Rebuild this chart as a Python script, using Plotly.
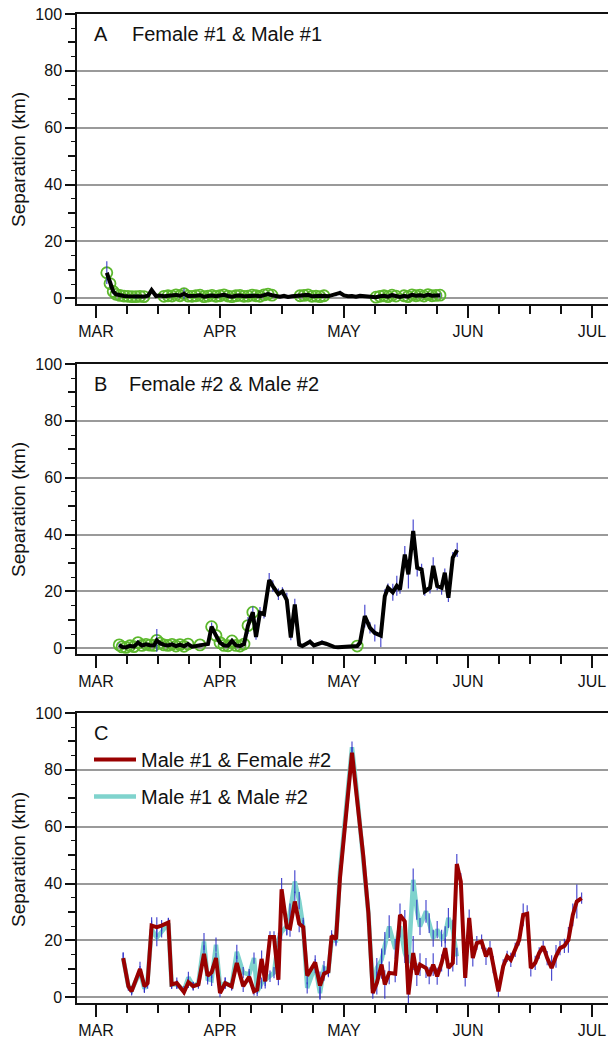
import plotly.graph_objects as go

# x = days after 1 March (months drawn with equal width: MAR=0, APR=31, MAY=62, JUN=93, JUL=124)
month_pos = [0, 31, 62, 93, 124]
month_lbl = ["MAR", "APR", "MAY", "JUN", "JUL"]

# ---------------- Panel A: Female #1 & Male #1 ----------------
a_day = [2.7, 3.5, 4.3, 5, 6, 7, 8, 9, 10, 11, 12, 13, 13.9, 15, 16, 17, 18, 19, 20, 21,
         22, 23, 24, 25, 26, 27, 28, 29, 30, 31, 32, 33, 34, 35, 36, 37, 38, 39, 40, 41,
         42, 43, 44, 45, 46, 47, 48, 49, 50, 51, 52, 53, 54, 55, 56, 57, 58, 59, 60, 61,
         62, 63, 64, 65, 66, 67, 68, 69, 70, 71, 72, 73, 74, 75, 76, 77, 78, 79, 80, 81,
         82, 83, 84, 85, 86]
a_sep = [9.0, 5.2, 2.4, 1.4, 1.0, 0.8, 0.7, 0.6, 0.6, 0.7,
         0.6, 0.9, 2.9, 0.8, 1.0, 0.7, 0.9, 0.8, 1.2, 0.9,
         1.6, 0.8, 0.7, 0.9, 1.1, 0.6, 0.8, 1.0, 0.7, 0.9,
         1.2, 0.8, 0.6, 0.9, 1.0, 0.7, 0.8, 1.1, 0.9, 0.7,
         1.2, 1.5, 1.1, 0.8, 0.6, 0.9, 0.5, 0.7, 0.8, 0.9,
         1.0, 1.2, 0.7, 0.8, 0.6, 0.9, 0.7, 1.0, 1.3, 1.9,
         1.0, 0.7, 0.8, 0.6, 0.9, 0.7, 0.6, 0.5, 0.4, 0.7,
         0.9, 0.6, 1.1, 0.8, 0.5, 0.9, 0.6, 1.2, 0.9, 1.1,
         0.8, 1.3, 0.9, 1.0, 1.1]
a_err = [4.0, 1.5, 1.0, 0.6, 0.5, 0.4, 0.4, 0.4, 0.8, 0.4,
         0.4, 0.5, 0.6, 0.5, 0.5, 0.4, 0.5, 0.4, 0.6, 0.5,
         1.8, 0.5, 0.4, 0.5, 0.6, 0.4, 0.5, 0.6, 0.4, 0.5,
         0.8, 0.5, 0.4, 0.5, 0.6, 0.4, 0.5, 0.6, 0.5, 0.4,
         0.6, 0.8, 0.6, 0.5, 0.4, 0.5, 0.4, 0.4, 0.5, 0.5,
         0.5, 0.6, 0.4, 0.5, 0.4, 0.5, 0.4, 0.5, 0.6, 0.8,
         0.5, 0.4, 0.5, 0.4, 0.5, 0.4, 0.4, 0.4, 0.3, 0.4,
         0.5, 0.4, 0.6, 0.5, 0.4, 0.5, 0.4, 0.6, 0.5, 0.6,
         0.5, 0.6, 0.5, 0.5, 0.8]
a_circle_day = [2.7, 3.5, 4.3, 5, 6, 7, 8, 9, 10, 11, 12,
                17, 18, 19, 20, 21, 22, 23, 24, 25, 26, 27, 28, 29, 30, 31, 32, 33, 34, 35,
                36, 37, 38, 39, 40, 41, 42, 43, 44,
                51, 52, 53, 54, 55, 56, 57,
                70, 71, 72, 73, 74, 75, 77, 78, 79, 80, 81, 82, 83, 84, 85, 86]

# ---------------- Panel B: Female #2 & Male #2 ----------------
b_day = [5.8, 6.5, 7.5, 8.5, 9.5, 10.5, 11.5, 12.5, 13.5, 14.5,
         15.2, 16, 17, 18, 19, 20, 21, 22, 23, 24,
         25, 26, 27, 28, 28.9, 30, 31, 32, 33, 34,
         35, 36, 37, 38, 39.2, 40, 41, 42, 43.3, 44.2,
         45.6, 46.6, 47.7, 48.7, 49.7, 50.8, 51.6, 52.6, 53.5, 54.5,
         55.5, 56.5, 57.5, 58.5, 59.5, 60.5, 61.5, 62.5, 63.5, 64.5,
         65.3, 66, 67.2, 68.5, 69.7, 71.2, 72.2, 73, 74.2, 75.2,
         76, 77.2, 78.1, 79.3, 80.3, 81.4, 82.2, 83.5, 84.3, 85.3,
         86.4, 87.2, 88.1, 89.2, 90.3]
b_sep = [1.2, 0.5, 0.3, 0.9, 0.6, 2.0, 1.0, 1.4, 1.1, 1.0,
         2.8, 1.8, 1.2, 1.0, 1.4, 0.8, 1.3, 0.7, 1.5, 0.6,
         0.8, 1.2, 1.3, 1.5, 7.6, 4.5, 2.0, 1.0, 0.9, 2.6,
         1.0, 0.8, 1.5, 8.0, 12.7, 4.0, 12.5, 12.0, 24.0, 21.9,
         19.0, 20.0, 17.0, 3.8, 15.4, 1.3, 0.8, 1.6, 2.3, 1.0,
         1.5, 2.0, 1.6, 1.0, 0.5, 0.4, 0.5, 0.4, 0.6, 0.5,
         0.8, 2.0, 11.3, 7.2, 5.4, 4.5, 18.3, 21.3, 19.7, 22.0,
         20.7, 33.0, 26.0, 41.3, 28.3, 27.7, 20.0, 21.3, 29.0, 21.9,
         21.3, 26.6, 17.8, 31.9, 34.6]
b_err = [0.5, 0.4, 0.4, 0.5, 0.4, 0.8, 0.5, 0.6, 0.5, 0.5,
         4.0, 0.8, 0.5, 0.5, 0.6, 0.4, 0.5, 0.4, 0.6, 0.4,
         0.4, 0.5, 0.5, 0.6, 1.5, 1.0, 0.6, 0.5, 0.4, 0.8,
         0.5, 0.4, 0.6, 3.0, 2.0, 1.0, 2.0, 1.5, 2.5, 2.0,
         2.0, 1.5, 2.5, 1.0, 2.0, 0.6, 0.4, 0.6, 0.8, 0.5,
         0.6, 0.8, 0.6, 0.5, 0.4, 0.3, 0.4, 0.3, 0.4, 0.4,
         0.5, 0.8, 4.0, 2.0, 3.0, 4.0, 2.5, 1.5, 3.0, 3.5,
         1.5, 3.0, 5.0, 4.0, 3.0, 2.0, 1.5, 2.0, 3.0, 1.5,
         2.5, 1.5, 1.5, 2.0, 2.5]
b_circle_day = [5.8, 6.5, 7.5, 8.5, 9.5, 10.5, 11.5, 12.5, 13.5, 14.5, 15.2, 16, 17, 18,
                19, 20, 21, 22, 23, 26, 28.9, 30, 31, 32, 33, 34, 35, 36, 37, 38, 39.2, 65.3]

# ---------------- Panel C ----------------
c_day = [6.8, 8.1, 8.9, 11, 12.1, 12.9, 13.9, 15.2, 16.4, 18.1,
         18.9, 20.2, 22, 23.1, 24.3, 25.6, 27, 27.9, 28.9, 30,
         31, 32.3, 33.9, 35.2, 36.8, 38.3, 39.5, 40.3, 41.4, 42.3,
         43.5, 44.5, 45.6, 46.4, 47.7, 48.5, 49.7, 50.8, 51.8, 52.8,
         54.8, 56, 57, 58.1, 58.9, 60, 61, 62, 63, 64,
         65, 66, 66.8, 68.1, 69.2, 70.2, 71.4, 72.2, 73.3, 74.8,
         76, 77.2, 78.1, 79.3, 80.2, 81, 82.5, 83.3, 84.3, 85.3,
         86.4, 87.3, 88.1, 89.2, 90.2, 91.2, 92.3, 93.3, 94.2, 95.2,
         96.4, 97.5, 98.5, 99.3, 100.6, 101.8, 102.8, 103.7, 104.8, 105.8,
         106.8, 107.8, 108.7, 109.8, 110.8, 111.8, 112.8, 113.9, 115, 116,
         117.1, 118.1, 119.2, 120.2, 121.4]
# Male #1 & Female #2
c_m1f2 = [13.8, 3.9, 2.1, 10.0, 3.9, 5.0, 25.2, 24.7, 25.2, 26.3,
          4.5, 5.0, 1.8, 5.3, 3.9, 4.5, 15.3, 7.6, 8.8, 13.8,
          1.5, 5.0, 3.9, 12.1, 3.9, 7.2, 2.1, 2.7, 13.5, 5.6,
          21.2, 21.2, 6.2, 38.0, 24.7, 24.3, 33.7, 25.9, 24.7, 7.6,
          12.3, 4.1, 8.3, 9.1, 21.6, 20.5, 42.0, 56.0, 71.0, 86.0,
          73.0, 60.0, 50.0, 29.6, 1.5, 5.0, 11.5, 4.5, 8.6, 8.3,
          29.0, 26.7, 1.0, 15.6, 8.0, 11.5, 10.3, 7.6, 11.5, 7.4,
          12.1, 17.3, 10.3, 12.1, 46.9, 40.7, 6.8, 27.9, 13.8, 19.1,
          19.6, 14.4, 17.3, 11.5, 2.1, 10.9, 14.4, 13.2, 16.7, 20.2,
          29.0, 29.4, 10.3, 12.1, 15.6, 17.9, 13.8, 10.3, 14.4, 17.3,
          18.1, 20.2, 29.0, 33.7, 34.9]
c_m1f2_err = [2.0, 1.5, 1.5, 2.5, 2.0, 2.0, 3.0, 3.5, 2.0, 1.5,
              1.5, 2.0, 1.0, 2.0, 1.5, 1.5, 3.0, 2.0, 2.0, 2.0,
              1.5, 2.0, 1.5, 2.5, 2.0, 2.0, 1.5, 1.5, 3.0, 2.5,
              2.0, 2.0, 2.0, 4.0, 3.0, 3.0, 3.5, 3.0, 2.5, 3.0,
              2.5, 5.0, 2.5, 2.0, 2.0, 2.0, 2.5, 2.0, 2.0, 2.0,
              2.0, 2.0, 2.0, 2.0, 2.0, 4.0, 5.0, 5.0, 4.0, 3.0,
              4.0, 4.0, 3.0, 6.0, 4.0, 4.0, 3.5, 3.0, 4.0, 3.0,
              3.0, 3.5, 3.0, 3.0, 3.5, 3.0, 3.0, 3.0, 3.0, 2.5,
              2.5, 3.0, 2.5, 3.0, 2.0, 2.5, 2.0, 2.5, 2.5, 2.0,
              4.0, 3.0, 3.0, 2.5, 2.0, 2.0, 2.5, 4.5, 4.0, 2.5,
              2.5, 4.5, 4.0, 6.0, 2.0]
# Male #1 & Male #2 (ends 90.2)
c_m1m2_day = c_day[:75]
c_m1m2 = [13.8, 3.9, 2.5, 9.0, 3.0, 6.0, 24.0, 21.0, 23.0, 26.0,
          4.5, 4.5, 2.5, 7.0, 4.0, 5.0, 19.6, 6.5, 6.0, 18.5,
          4.0, 5.0, 4.0, 16.0, 8.7, 8.0, 13.8, 2.0, 5.0, 6.0,
          7.4, 8.7, 20.2, 23.0, 25.0, 30.0, 40.7, 34.0, 25.0, 3.3,
          11.0, 1.5, 10.3, 9.5, 20.0, 20.0, 44.0, 58.0, 73.0, 88.0,
          75.0, 60.0, 50.0, 29.6, 3.0, 10.3, 13.2, 19.0, 24.9, 17.0,
          25.0, 15.6, 12.0, 41.3, 30.8, 24.9, 30.2, 26.1, 20.8, 23.8,
          20.8, 22.0, 27.9, 23.8, 14.4]
c_m1m2_err = [2.0, 1.5, 1.5, 2.0, 1.5, 2.0, 3.0, 3.0, 2.0, 2.0,
              1.5, 1.5, 1.5, 2.0, 1.5, 1.5, 3.0, 2.0, 2.0, 2.5,
              1.5, 2.0, 1.5, 2.5, 2.0, 2.0, 2.0, 1.5, 2.0, 2.0,
              2.0, 2.0, 2.5, 3.0, 3.0, 3.0, 4.0, 3.0, 3.0, 2.0,
              2.5, 2.0, 2.5, 2.0, 2.5, 2.0, 2.5, 2.0, 2.0, 2.0,
              2.0, 2.0, 2.0, 2.0, 2.0, 3.5, 4.0, 4.0, 4.0, 3.5,
              4.0, 3.5, 3.0, 4.0, 3.5, 3.0, 4.0, 3.5, 3.0, 3.0,
              3.0, 3.0, 3.5, 3.5, 3.0]

# ---------------- styling ----------------
FONT = "Liberation Sans, Arial, sans-serif"
BLACK_LINE = "#000000"
GREEN = "#5cb82c"
ERR = "rgba(45,45,200,0.85)"
RED = "#990000"
CYAN = "#7fd3cd"

fig = go.Figure()


def err_trace(x, y, e, xa, ya):
    return go.Scatter(x=x, y=y, mode="markers", xaxis=xa, yaxis=ya,
                      marker=dict(size=1, color="rgba(0,0,0,0)"),
                      error_y=dict(type="data", array=e, visible=True, color=ERR,
                                   thickness=1.2, width=0),
                      showlegend=False, hoverinfo="skip")


def circle_trace(days, xs, ys, xa, ya):
    lookup = dict(zip(xs, ys))
    return go.Scatter(x=days, y=[lookup[d] for d in days], mode="markers",
                      xaxis=xa, yaxis=ya,
                      marker=dict(symbol="circle-open", size=11, color=GREEN,
                                  line=dict(width=1.8, color=GREEN)),
                      showlegend=False, hoverinfo="skip")


# Panel A
fig.add_trace(circle_trace(a_circle_day, a_day, a_sep, "x", "y"))
fig.add_trace(err_trace(a_day, a_sep, a_err, "x", "y"))
fig.add_trace(go.Scatter(x=a_day, y=a_sep, mode="lines", xaxis="x", yaxis="y",
                         line=dict(color=BLACK_LINE, width=4), showlegend=False))
# Panel B
fig.add_trace(circle_trace(b_circle_day, b_day, b_sep, "x2", "y2"))
fig.add_trace(err_trace(b_day, b_sep, b_err, "x2", "y2"))
fig.add_trace(go.Scatter(x=b_day, y=b_sep, mode="lines", xaxis="x2", yaxis="y2",
                         line=dict(color=BLACK_LINE, width=4), showlegend=False))
# Panel C
fig.add_trace(go.Scatter(x=c_m1m2_day, y=c_m1m2, mode="lines", xaxis="x3", yaxis="y3",
                         line=dict(color=CYAN, width=4.5), name="Male #1 & Male #2",
                         legendgroup="g2", legendrank=2))
fig.add_trace(err_trace(c_m1m2_day, c_m1m2, c_m1m2_err, "x3", "y3"))
fig.add_trace(err_trace(c_day, c_m1f2, c_m1f2_err, "x3", "y3"))
fig.add_trace(go.Scatter(x=c_day, y=c_m1f2, mode="lines", xaxis="x3", yaxis="y3",
                         line=dict(color=RED, width=4), name="Male #1 & Female #2",
                         legendgroup="g1", legendrank=1))

# dummy traces for the overlay tick axes
for ya, xa in (("y4", "x"), ("y5", "x2"), ("y6", "x3")):
    fig.add_trace(go.Scatter(x=[None], y=[None], xaxis=xa, yaxis=ya,
                             showlegend=False, hoverinfo="skip"))

H = 1040.0
domains = {
    "A": [1 - 304 / H, 1 - 14 / H],
    "B": [1 - 654 / H, 1 - 364 / H],
    "C": [1 - 1003 / H, 1 - 713 / H],
}

xax = dict(range=[-4.75, 128], showline=True, linecolor="#111", linewidth=1.5,
           mirror=True, ticks="outside", tickvals=month_pos, ticktext=month_lbl,
           ticklen=12, tickwidth=1.5, tickcolor="#111",
           minor=dict(dtick=7.75, tick0=0, ticklen=8, tickwidth=1.5,
                      tickcolor="#111", ticks="outside"),
           showgrid=False, zeroline=False, automargin=False,
           tickfont=dict(size=16, color="#111", family=FONT))

yax = dict(range=[-2, 100], showline=True, linecolor="#111", linewidth=1.5,
           ticks="outside", tickvals=[0, 20, 40, 60, 80, 100], ticklen=10,
           tickwidth=1.5, tickcolor="#111",
           minor=dict(dtick=5, tick0=0, ticklen=4, tickwidth=1.2,
                      tickcolor="#111", ticks="outside"),
           showgrid=True, gridcolor="#9a9a9a", gridwidth=1.6, zeroline=False,
           automargin=False, tickfont=dict(size=16, color="#111", family=FONT))

yover = dict(range=[-2, 100], showline=False, ticks="outside",
             tickvals=[10, 30, 50, 70, 90], ticklen=8, tickwidth=1.5,
             tickcolor="#111", showticklabels=False, showgrid=False,
             zeroline=False, automargin=False, side="left")

layout = dict(
    width=608, height=1040, template="none",
    margin=dict(l=77, r=0, t=0, b=0, autoexpand=False),
    paper_bgcolor="white", plot_bgcolor="white",
    font=dict(family=FONT, color="#111"),
    xaxis=dict(xax, anchor="y"),
    yaxis=dict(yax, domain=domains["A"], anchor="x"),
    xaxis2=dict(xax, anchor="y2"),
    yaxis2=dict(yax, domain=domains["B"], anchor="x2"),
    xaxis3=dict(xax, anchor="y3"),
    yaxis3=dict(yax, domain=domains["C"], anchor="x3"),
    yaxis4=dict(yover, overlaying="y", anchor="x"),
    yaxis5=dict(yover, overlaying="y2", anchor="x2"),
    yaxis6=dict(yover, overlaying="y3", anchor="x3"),
    showlegend=True,
    legend=dict(x=(89 - 77) / 531, y=1 - 740 / H, xanchor="left", yanchor="top",
                font=dict(size=20, family=FONT, color="#111"),
                bgcolor="rgba(0,0,0,0)", itemwidth=42, tracegroupgap=8,
                traceorder="grouped"),
)
fig.update_layout(**layout)


def px_x(p):
    return (p - 77) / 531.0


def px_y(p):
    return 1 - p / H


ann = []
for txt, x, y in (("A", 92, 34), ("Female #1 & Male #1", 130, 34),
                  ("B", 92, 384), ("Female #2 & Male #2", 127, 384),
                  ("C", 92, 733)):
    ann.append(dict(text=txt, x=px_x(x), y=px_y(y), xref="paper", yref="paper",
                    xanchor="left", yanchor="middle", showarrow=False,
                    font=dict(size=20, family=FONT, color="#111")))
for yc in (160, 510, 860):
    ann.append(dict(text="Separation (km)", x=px_x(18), y=px_y(yc), xref="paper",
                    yref="paper", xanchor="center", yanchor="middle", textangle=-90,
                    showarrow=False, font=dict(size=19, family=FONT, color="#111")))
fig.update_layout(annotations=ann)

fig.write_html("out.html",
               config={"displayModeBar": False},
               post_script="document.body.style.margin='0';"
                           "document.body.style.overflow='hidden';")
